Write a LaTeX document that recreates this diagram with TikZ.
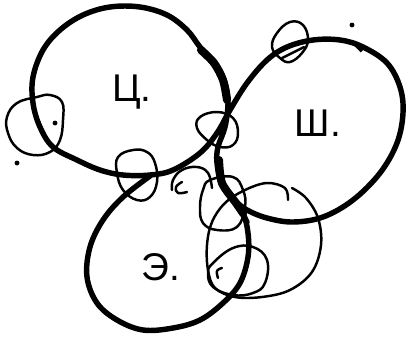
\documentclass[tikz,border=0pt]{standalone}
\usepackage{fontspec}
\newfontfamily\labelfont{Liberation Sans}
\usepackage{tikz}
\usetikzlibrary{positioning, calc}

\begin{document}
\begin{tikzpicture}[
        x=0.02cm, y=-0.02cm,
        mainloop/.style={line width=3.1pt, line cap=round, line join=round},
        heavy/.style={line width=4.6pt, line cap=round},
        smallloop/.style={line width=1.4pt, line cap=round, line join=round},
        looplabel/.style={font=\labelfont\fontsize{22}{26}\selectfont, inner sep=0pt},
        speck/.style={fill, circle, inner sep=0pt, minimum size=2.8pt}
    ]
    \useasboundingbox (0,0) rectangle (406,339);

    % ============ MAIN LOOPS ============
    % C loop, running on into the Sh loop
    \draw[mainloop] plot[smooth, tension=0.6] coordinates {
        (247,222) (236,204) (222,185) (217,163) (218,147) (225,127) (228,103)
        (225,83) (215,64) (200,47) (187,30) (167,15) (140,7) (110,7) (83,15)
        (60,30) (43,50) (33,77) (33,103) (40,127) (53,147) (77,160) (100,170)
        (123,175) (150,175) (173,170) (200,153) (217,133) (230,110) (247,83)
        (267,60) (287,47) (313,40) (340,40) (363,47) (387,63) (400,87)
        (403,113) (397,143) (380,173) (353,200) (323,217) (293,222)
        (267,218) (247,210) (234,200)};
    % E loop
    \draw[mainloop] plot[smooth, tension=0.6] coordinates {
        (150,176) (123,197) (103,220) (90,247) (87,277) (97,303) (117,320)
        (143,330) (173,328) (200,320) (223,303) (240,283) (248,257)
        (248,233) (243,213) (233,200)};
    % pen pressure marks
    \draw[heavy] plot[smooth] coordinates {(201,50) (214,63) (223,80) (227,100)};
    \draw[heavy] plot[smooth] coordinates {(219,160) (222,183) (236,203) (243,213)};
    \draw[line width=2.2pt] (355,44) -- (362,51);

    % ============ SMALL LOOPS ============
    \draw[smallloop] plot[smooth cycle, tension=0.7] coordinates {
        (37,97) (50,95) (62,102) (63,120) (60,140) (50,152) (33,155) (17,148)
        (8,133) (7,117) (17,103)};
    \draw[smallloop] plot[smooth cycle, tension=0.7] coordinates {
        (118,157) (133,150) (147,152) (155,163) (157,182) (150,197) (137,200)
        (123,190) (117,173)};
    \draw[smallloop] plot[smooth cycle, tension=0.7] coordinates {
        (200,117) (217,112) (233,118) (238,133) (233,145) (220,147) (207,140)
        (197,128)};
    \draw[smallloop] plot[smooth cycle, tension=0.7] coordinates {
        (277,33) (290,22) (303,25) (308,40) (302,53) (290,62) (280,58)
        (272,47)};
    \draw[smallloop] plot[smooth, tension=0.7] coordinates {
        (282,58) (298,50) (304,47)};
    \draw[smallloop] plot[smooth, tension=0.7] coordinates {
        (172,190) (173,180) (182,170) (197,167) (208,173) (212,188)};
    \draw[smallloop] plot[smooth, tension=0.7] coordinates {
        (182,182) (176,187) (178,193) (187,192)};
    \draw[smallloop] plot[smooth cycle, tension=0.7] coordinates {
        (210,180) (233,177) (243,190) (245,207) (237,227) (217,230) (203,223)
        (200,207) (203,190)};
    \draw[smallloop] plot[smooth, tension=0.6] coordinates {
        (288,200) (285,188) (267,183) (245,190) (225,203) (212,222) (207,245)
        (208,270) (215,288) (235,297) (262,297) (290,290) (312,272) (321,245)
        (318,218) (306,198) (292,188)};
    \draw[smallloop] plot[smooth cycle, tension=0.7] coordinates {
        (213,263) (233,248) (253,247) (267,260) (265,283) (253,293) (233,295)
        (213,287) (208,273)};
    \draw[smallloop] plot[smooth, tension=0.7] coordinates {
        (218,278) (217,271) (222,268)};

    % ============ SPECKS ============
    \node[speck] (speckA) at (55,123) {};
    \node[speck] (speckB) at (17,163) {};
    \node[speck] (speckC) at (352,25) {};

    % ============ LABELS ============
    \node[looplabel] (tsloop) at (132,92) {Ц.};
    \node[looplabel] (shloop) at (318,123) {Ш.};
    \node[looplabel] (eloop) at (161,267) {Э.};

\end{tikzpicture}
\end{document}
